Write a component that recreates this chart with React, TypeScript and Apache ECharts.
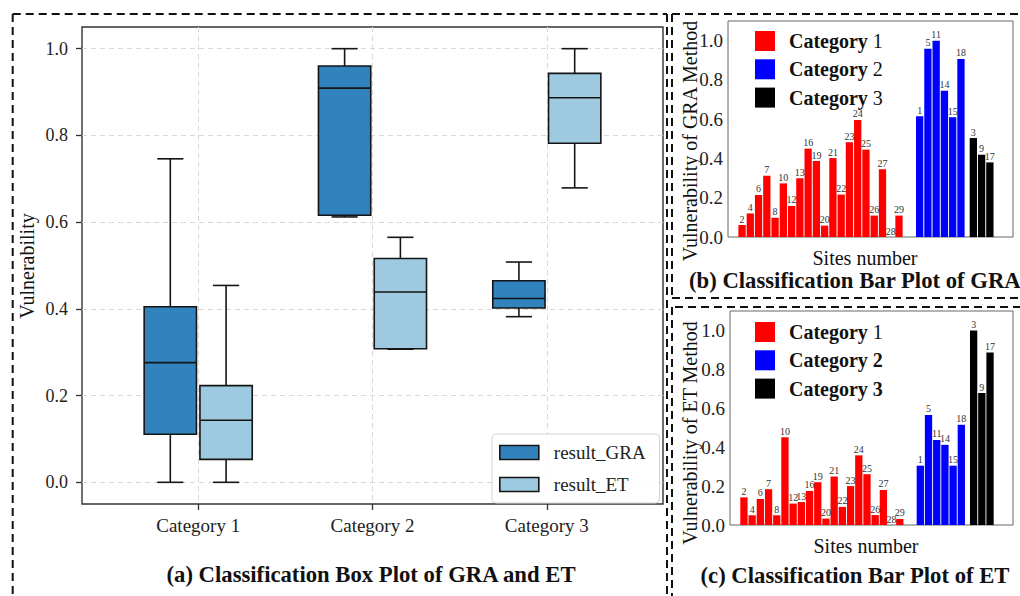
import React, { useEffect, useRef } from 'react';
import * as echarts from 'echarts';

const SERIF = '"Liberation Serif", "DejaVu Serif", serif';

// ---------- Box plot (a) ----------
const boxCategories = ['Category 1', 'Category 2', 'Category 3'];
const boxTickValues = [0, 0.2, 0.4, 0.6, 0.8, 1.0];
const boxSeriesNames = ['result_GRA', 'result_ET'];
// [min, Q1, median, Q3, max]
const graBoxStats = [
  [0.0, 0.111, 0.276, 0.405, 0.746],
  [0.612, 0.616, 0.909, 0.96, 1.0],
  [0.382, 0.402, 0.424, 0.465, 0.508],
];
const etBoxStats = [
  [0.0, 0.053, 0.143, 0.223, 0.454],
  [0.307, 0.308, 0.439, 0.516, 0.565],
  [0.679, 0.782, 0.887, 0.943, 1.0],
];

// ---------- Bar plots (b) and (c) ----------
const legendNames = ['Category 1', 'Category 2', 'Category 3'];
const cat1Sites = ['2', '4', '6', '7', '8', '10', '12', '13', '16', '19', '20', '21', '22', '23', '24', '25', '26', '27', '28', '29'];
const cat2Sites = ['1', '5', '11', '14', '15', '18'];
const cat3Sites = ['3', '9', '17'];

const graCat1 = [0.061, 0.12, 0.214, 0.312, 0.098, 0.273, 0.158, 0.299, 0.45, 0.387, 0.058, 0.402, 0.216, 0.482, 0.596, 0.445, 0.109, 0.345, 0.0, 0.109];
const graCat2 = [0.615, 0.959, 1.0, 0.745, 0.61, 0.907];
const graCat3 = [0.504, 0.419, 0.38];

const etCat1 = [0.142, 0.05, 0.134, 0.184, 0.05, 0.451, 0.11, 0.118, 0.175, 0.22, 0.033, 0.249, 0.093, 0.2, 0.358, 0.261, 0.051, 0.18, 0.0, 0.031];
const etCat2 = [0.305, 0.566, 0.437, 0.412, 0.305, 0.515];
const etCat3 = [1.0, 0.678, 0.887];

const barTickValues = [0, 0.2, 0.4, 0.6, 0.8, 1.0];

const GRA_COLOR = '#3182bd';
const ET_COLOR = '#9ecae1';
const CAT_COLORS = ['#ff0000', '#0000ff', '#000000'];
const GROUP_START = [0, 21.5, 28];
const BOX_W = 0.3;
const BOX_OFF = 0.16;
const EDGE = '#151515';
const LW = 1.6;

function boxSeries(name: string, stats: number[][], off: number, color: string) {
  return {
    type: 'custom',
    name,
    xAxisIndex: 0,
    yAxisIndex: 0,
    itemStyle: { color, borderColor: EDGE, borderWidth: LW },
    encode: { x: 0, y: [1, 2, 3, 4, 5] },
    data: stats.map((s, i) => [i, ...s]),
    renderItem: (params: any, api: any) => {
      const c = api.value(0) + off;
      const mn = api.value(1), q1 = api.value(2), md = api.value(3), q3 = api.value(4), mx = api.value(5);
      const tl = api.coord([c - BOX_W / 2, q3]);
      const br = api.coord([c + BOX_W / 2, q1]);
      const capL = api.coord([c - BOX_W / 4, mx])[0];
      const capR = api.coord([c + BOX_W / 4, mx])[0];
      const cx = api.coord([c, mx])[0];
      const yMx = api.coord([c, mx])[1];
      const yMn = api.coord([c, mn])[1];
      const yMd = api.coord([c, md])[1];
      const line = (x1: number, y1: number, x2: number, y2: number) => ({
        type: 'line',
        shape: { x1, y1, x2, y2 },
        style: { stroke: EDGE, lineWidth: LW },
      });
      return {
        type: 'group',
        children: [
          line(cx, yMx, cx, tl[1]),
          line(cx, br[1], cx, yMn),
          line(capL, yMx, capR, yMx),
          line(capL, yMn, capR, yMn),
          {
            type: 'rect',
            shape: { x: tl[0], y: tl[1], width: br[0] - tl[0], height: br[1] - tl[1] },
            style: { fill: color, stroke: EDGE, lineWidth: LW },
          },
          line(tl[0], yMd, br[0], yMd),
        ],
      };
    },
  };
}

function barSeries(name: string, sites: string[], vals: number[], start: number, color: string, axis: number) {
  return {
    type: 'bar',
    name,
    xAxisIndex: axis,
    yAxisIndex: axis,
    barWidth: 7.3,
    barGap: '-100%',
    itemStyle: { color },
    label: {
      show: true,
      position: 'top',
      distance: 1,
      fontSize: 10,
      fontFamily: SERIF,
      color: '#333',
      formatter: (p: any) => p.name,
    },
    data: vals.map((v, i) => ({ name: sites[i], value: [start + i, v] })),
  };
}

function barYAxis(gridIndex: number) {
  return {
    type: 'value',
    gridIndex,
    min: 0,
    max: 1.1,
    axisLine: { show: false, onZero: false },
    axisTick: { show: false, customValues: barTickValues },
    splitLine: { show: false },
    axisLabel: {
      customValues: barTickValues,
      formatter: (v: number) => v.toFixed(1),
      fontFamily: SERIF,
      fontSize: 19,
      color: '#222',
      margin: 5,
    },
  };
}

function barXAxis(gridIndex: number) {
  return {
    type: 'value',
    gridIndex,
    min: -1.7,
    max: 32.8,
    axisLine: { show: false, onZero: false },
    axisTick: { show: false },
    axisLabel: { show: false },
    splitLine: { show: false },
  };
}

function barLegend(top: number, boldNumbers: boolean[]) {
  const tok = { fontFamily: SERIF, fontSize: 20, lineHeight: 20, color: '#111' };
  return {
    orient: 'vertical',
    left: 755,
    top,
    icon: 'rect',
    itemWidth: 20,
    itemHeight: 20,
    itemGap: 8.3,
    padding: 0,
    data: legendNames,
    itemStyle: { borderWidth: 0 },
    formatter: (name: string) => {
      const idx = legendNames.indexOf(name);
      const num = name.replace('Category ', '');
      return boldNumbers[idx] ? `{b0|Category ${num}}` : `{b0|Category} {n|${num}}`;
    },
    textStyle: {
      ...tok,
      rich: {
        b0: { ...tok, fontWeight: 'bold', padding: [0, 0, 0, 9] },
        n: { ...tok, fontWeight: 'normal' },
      },
    },
  };
}

function dashed(x1: number, y1: number, x2: number, y2: number) {
  return {
    type: 'line',
    silent: true,
    shape: { x1, y1, x2, y2 },
    style: { stroke: '#111', lineWidth: 2, lineDash: [8, 5] },
  };
}

function label(text: string, x: number, y: number, size: number, opts: any = {}) {
  return {
    type: 'text',
    x,
    y,
    rotation: opts.rotation || 0,
    silent: true,
    style: {
      text,
      fontFamily: SERIF,
      fontSize: size,
      fontWeight: opts.bold ? 'bold' : 'normal',
      fill: '#111',
      align: opts.align || 'center',
      verticalAlign: 'middle',
    },
  };
}

export default function App() {
  const ref = useRef<HTMLDivElement>(null);

  useEffect(() => {
    if (!ref.current) return;
    const chart = echarts.init(ref.current, undefined, { renderer: 'svg' });
    const gridLine = { show: true, lineStyle: { color: '#d8d8d8', type: [5, 4], width: 1 } };

    const option: any = {
      animation: false,
      backgroundColor: '#ffffff',
      textStyle: { fontFamily: SERIF },
      grid: [
        { left: 82, top: 27, width: 581, height: 477, show: true, borderColor: '#333', borderWidth: 1.4, backgroundColor: 'transparent' },
        { left: 728, top: 21, width: 285, height: 216, show: true, borderColor: '#666', borderWidth: 1 },
        { left: 730, top: 311, width: 283, height: 214, show: true, borderColor: '#666', borderWidth: 1 },
      ],
      xAxis: [
        {
          type: 'value',
          gridIndex: 0,
          min: -2 / 3,
          max: 8 / 3,
          position: 'bottom',
          axisLine: { show: false, onZero: false },
          axisTick: { show: true, customValues: [0, 1, 2], length: 6, lineStyle: { color: '#333', width: 1.3 } },
          axisLabel: {
            customValues: [0, 1, 2],
            formatter: (v: number) => boxCategories[Math.round(v)] || '',
            fontFamily: SERIF,
            fontSize: 19,
            color: '#222',
            margin: 12,
          },
          splitLine: gridLine,
        },
        barXAxis(1),
        barXAxis(2),
      ],
      yAxis: [
        {
          type: 'value',
          gridIndex: 0,
          min: -0.05,
          max: 1.05,
          position: 'left',
          axisLine: { show: false, onZero: false },
          axisTick: { show: true, customValues: boxTickValues, length: 6, lineStyle: { color: '#333', width: 1.3 } },
          axisLabel: {
            customValues: boxTickValues,
            formatter: (v: number) => v.toFixed(1),
            fontFamily: SERIF,
            fontSize: 18,
            color: '#222',
            margin: 14,
          },
          splitLine: gridLine,
        },
        barYAxis(1),
        barYAxis(2),
      ],
      legend: [
        {
          orient: 'vertical',
          left: 492,
          top: 434,
          icon: 'rect',
          itemWidth: 39,
          itemHeight: 14,
          itemGap: 13,
          padding: [9, 14, 9, 7],
          backgroundColor: 'rgba(255,255,255,0.85)',
          borderColor: '#d3d3d3',
          borderWidth: 1,
          borderRadius: 4,
          data: boxSeriesNames,
          itemStyle: { borderColor: EDGE, borderWidth: LW },
          textStyle: { fontFamily: SERIF, fontSize: 19, color: '#222', padding: [0, 0, 0, 10] },
        },
        barLegend(31, [false, false, false]),
        barLegend(322, [false, true, true]),
      ],
      series: [
        boxSeries(boxSeriesNames[0], graBoxStats, -BOX_OFF, GRA_COLOR),
        boxSeries(boxSeriesNames[1], etBoxStats, BOX_OFF, ET_COLOR),
        barSeries(legendNames[0], cat1Sites, graCat1, GROUP_START[0], CAT_COLORS[0], 1),
        barSeries(legendNames[1], cat2Sites, graCat2, GROUP_START[1], CAT_COLORS[1], 1),
        barSeries(legendNames[2], cat3Sites, graCat3, GROUP_START[2], CAT_COLORS[2], 1),
        barSeries(legendNames[0], cat1Sites, etCat1, GROUP_START[0], CAT_COLORS[0], 2),
        barSeries(legendNames[1], cat2Sites, etCat2, GROUP_START[1], CAT_COLORS[1], 2),
        barSeries(legendNames[2], cat3Sites, etCat3, GROUP_START[2], CAT_COLORS[2], 2),
      ],
      graphic: [
        // panel borders
        dashed(12.7, 14, 667, 14),
        dashed(12.7, 14, 12.7, 596),
        dashed(667, 14, 667, 596),
        dashed(672, 14, 1020, 14),
        dashed(672, 14, 672, 298),
        dashed(672, 298, 1020, 298),
        dashed(675, 307, 1020, 307),
        dashed(672, 307, 672, 596),
        // axis names & titles
        label('Vulnerability', 27, 266, 20, { rotation: Math.PI / 2 }),
        label('Vulnerability of GRA Method', 690, 141, 20, { rotation: Math.PI / 2 }),
        label('Vulnerability of ET Method', 690, 433, 20, { rotation: Math.PI / 2 }),
        label('Sites number', 865, 258, 20),
        label('Sites number', 866, 546, 20),
        label('(a) Classification Box Plot of GRA and ET', 371, 574, 22.7, { bold: true }),
        label('(b) Classification Bar Plot of GRA', 689, 280, 22.7, { bold: true, align: 'left' }),
        label('(c) Classification Bar Plot of ET', 855, 575, 22.7, { bold: true }),
      ],
    };

    chart.setOption(option);
    return () => chart.dispose();
  }, []);

  return <div ref={ref} style={{ position: 'absolute', left: 0, top: 0, width: 1020, height: 596 }} />;
}
